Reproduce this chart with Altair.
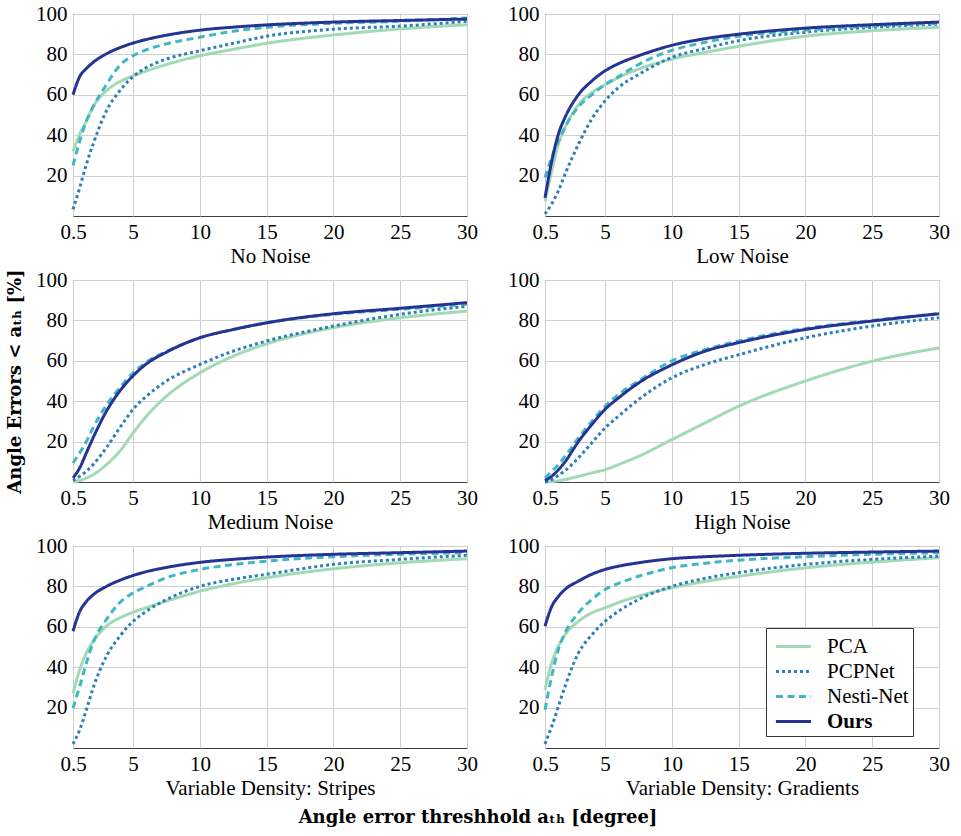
import altair as alt
import pandas as pd

X = [0.5, 1, 1.5, 2, 3, 4, 5, 6, 7.5, 10, 12.5, 15, 20, 25, 30]
METHODS = ["PCA", "PCPNet", "Nesti-Net", "Ours"]
COLORS = ["#a1dab4", "#2c7fb8", "#41b6c4", "#253494"]
DASHES = [[1, 0], [3, 3], [7, 4.5], [1, 0]]
PANELS = ["No Noise", "Low Noise", "Medium Noise", "High Noise",
          "Variable Density: Stripes", "Variable Density: Gradients"]

no_noise_pca = [32, 40.5, 47, 54, 62, 66.5, 69.4, 71.8, 75, 79.3, 82.5, 85.5, 89.6, 92.6, 94.7]
no_noise_pcpnet = [3.3, 14, 25.6, 35.5, 52, 62, 69, 73.5, 77.7, 81.8, 85.5, 89, 92.5, 94, 96.4]
no_noise_nesti = [25, 37, 47, 54, 65, 74.5, 79.3, 82.3, 85.2, 88.5, 91.5, 93.4, 95.4, 96.4, 98]
no_noise_ours = [60, 69, 73, 76, 80.3, 83.3, 85.6, 87.4, 89.5, 92, 93.5, 94.6, 96, 96.8, 97.5]

low_noise_pca = [7.4, 22, 35.5, 43.8, 55, 61, 65, 68.5, 72.7, 77.7, 81, 84, 89, 91.7, 93.4]
low_noise_pcpnet = [1, 6, 12.4, 20.7, 35.5, 48, 57, 63.6, 70, 78.5, 83, 86.8, 91, 93.4, 95]
low_noise_nesti = [19, 29, 37, 44, 54, 60, 65, 69, 75, 82, 86, 89, 92, 94, 95.4]
low_noise_ours = [9, 27, 40.5, 48.8, 60, 66.8, 71.9, 75.4, 79.3, 84.5, 87.8, 90, 93, 94.7, 96]

medium_noise_pca = [0, 0.7, 2, 3.6, 8.6, 15.2, 24.3, 32.6, 42.5, 54, 62.3, 68.4, 76.4, 81.3, 84.6]
medium_noise_pcpnet = [0.7, 2.8, 5.3, 8.6, 17, 26.8, 36, 42.5, 50, 58.2, 64.8, 69.8, 77.2, 83, 87]
medium_noise_nesti = [9.4, 14.4, 20, 26.8, 38, 46.6, 54, 59.3, 64.6, 71.4, 75.5, 78.8, 83, 85.5, 88]
medium_noise_ours = [2, 7, 14.4, 21.8, 35, 45, 52.6, 58.5, 64.3, 71.4, 75.5, 78.8, 83.3, 86, 88.8]

high_noise_pca = [0, 0.2, 0.6, 1.2, 2.8, 4.5, 6.1, 8.6, 12.7, 21, 29.3, 37.5, 50, 59.8, 66.4]
high_noise_pcpnet = [0, 1.2, 3.3, 5.6, 11.9, 19.3, 26.8, 32.6, 40.8, 51.6, 58.2, 63, 71.4, 77.2, 81.3]
high_noise_nesti = [2, 5.3, 8.6, 12.7, 21.8, 30, 37.5, 43.3, 50, 60, 65.6, 69.8, 76, 80, 83.3]
high_noise_ours = [0.7, 2.8, 6, 10, 20, 28.4, 36, 41.6, 49, 58, 64.8, 69, 75.5, 79.7, 83.3]

stripes_pca = [27, 38.7, 47, 52.8, 60.3, 64.4, 67.2, 69.5, 72.7, 77.6, 81.3, 84.3, 88.7, 91.7, 93.7]
stripes_pcpnet = [2, 9, 18.9, 29.6, 45.4, 55.3, 62.7, 67.7, 73.5, 80, 83.5, 86, 90.9, 93.4, 95.4]
stripes_nesti = [19.7, 30.5, 42, 52, 63.6, 71.9, 76.8, 80, 84.3, 88.4, 90.8, 92.5, 94.7, 95.9, 96.7]
stripes_ours = [57.8, 67.5, 72.5, 75.8, 80, 83, 85.4, 87.3, 89.4, 91.9, 93.4, 94.5, 95.9, 96.7, 97.5]

gradients_pca = [28.8, 42, 50.3, 56, 62.7, 66.9, 69.4, 72, 75.2, 79.3, 82.5, 85, 89.2, 92, 94.2]
gradients_pcpnet = [2, 10.6, 20.5, 30.5, 47, 56, 62.7, 67.7, 73.5, 80, 84, 86.8, 90.9, 93.4, 95]
gradients_nesti = [18.9, 35.4, 48.7, 57, 66.9, 73.5, 78.5, 81.5, 85, 89.2, 91.5, 93, 94.7, 95.9, 96.7]
gradients_ours = [60.3, 70, 75, 78.5, 82.6, 86, 88.4, 90, 91.7, 93.7, 94.7, 95.4, 96.4, 97, 97.5]

SERIES = {
    "No Noise": [no_noise_pca, no_noise_pcpnet, no_noise_nesti, no_noise_ours],
    "Low Noise": [low_noise_pca, low_noise_pcpnet, low_noise_nesti, low_noise_ours],
    "Medium Noise": [medium_noise_pca, medium_noise_pcpnet, medium_noise_nesti, medium_noise_ours],
    "High Noise": [high_noise_pca, high_noise_pcpnet, high_noise_nesti, high_noise_ours],
    "Variable Density: Stripes": [stripes_pca, stripes_pcpnet, stripes_nesti, stripes_ours],
    "Variable Density: Gradients": [gradients_pca, gradients_pcpnet, gradients_nesti, gradients_ours],
}

rows = []
for p in PANELS:
    for m, vals in zip(METHODS, SERIES[p]):
        for xv, yv in zip(X, vals):
            rows.append({"panel": p, "method": m, "x": xv, "y": yv})
df = pd.DataFrame(rows)

FONT = "Liberation Serif"
BOLD_FONT = "DejaVu Serif"

LEG = alt.Legend(
    title=None, orient="none", legendX=693, legendY=614,
    fillColor="white", strokeColor="#333333", padding=4,
    labelFont=FONT, labelFontSize=21, labelColor="black",
    labelFontWeight=alt.ExprRef("datum.label === 'Ours' ? 'bold' : 'normal'"),
    symbolType="M-1.35,0L1.35,0", symbolSize=676, symbolStrokeWidth=3, symbolOffset=9,
    rowPadding=0, labelOffset=19,
)


def panel(name, ytitle=None):
    d = df[df.panel == name]
    return alt.Chart(d).mark_line(strokeWidth=3, interpolate="monotone", strokeCap="butt").encode(
        x=alt.X("x:Q", scale=alt.Scale(domain=[0.5, 30], nice=False, zero=False),
                axis=alt.Axis(values=[0.5, 5, 10, 15, 20, 25, 30], format="~g", title=name)),
        y=alt.Y("y:Q", scale=alt.Scale(domain=[0, 100], nice=False),
                axis=alt.Axis(values=[20, 40, 60, 80, 100], title=ytitle)),
        color=alt.Color("method:N", scale=alt.Scale(domain=METHODS, range=COLORS), legend=LEG),
        strokeDash=alt.StrokeDash("method:N", scale=alt.Scale(domain=METHODS, range=DASHES), legend=LEG),
    ).properties(width=394, height=202)


panels = [
    panel(PANELS[0]), panel(PANELS[1]),
    panel(PANELS[2], ytitle="Angle Errors < aₜₕ [%]"), panel(PANELS[3]),
    panel(PANELS[4]), panel(PANELS[5]),
]

chart = alt.concat(*panels, columns=2, spacing={"row": 64, "column": 78}, bounds="flush").properties(
    title=alt.TitleParams("Angle error threshhold aₜₕ [degree]", orient="bottom", anchor="middle",
                          font=BOLD_FONT, fontSize=18, fontWeight="bold", color="black", offset=10),
    padding={"left": 6, "top": 2, "right": 5, "bottom": 5},
).configure(font=FONT).configure_view(
    stroke="#404040", strokeWidth=1
).configure_axis(
    labelFont=FONT, labelFontSize=21, labelColor="black", labelFlush=False,
    titleFont=FONT, titleFontSize=21, titleFontWeight="normal", titleColor="black",
    grid=True, gridColor="#d0d0d0", gridWidth=1, ticks=False, domain=False,
    labelPadding=5, titlePadding=3,
).configure_axisY(
    titleFont=BOLD_FONT, titleFontSize=18, titleFontWeight="bold", titlePadding=11, labelPadding=6,
)

chart.save("out.html", embed_options={"renderer": "svg", "actions": False})
